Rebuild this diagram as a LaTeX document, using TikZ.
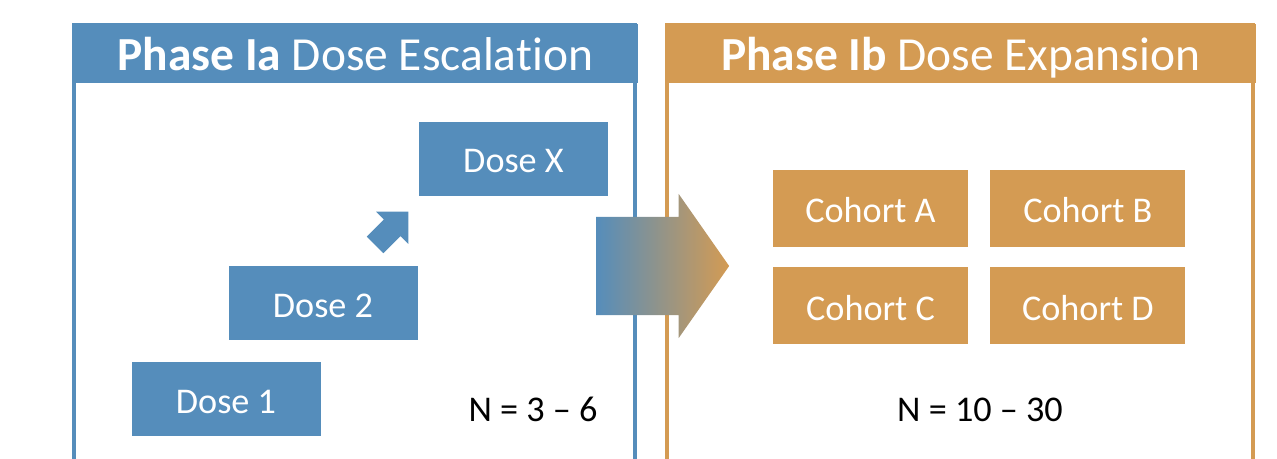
\documentclass[tikz,border=0pt]{standalone}
\usepackage{fontspec}
\setmainfont{Carlito}[Ligatures=NoCommon]
\usetikzlibrary{positioning, shapes.arrows}
\definecolor{phblue}{HTML}{558DBB}
\definecolor{phorange}{HTML}{D49B53}

\begin{document}
\begin{tikzpicture}[
    x=0.1mm, y=-0.1mm,
    hdr/.style={anchor=north west, text=white, inner sep=0pt,
                text height=3.55mm, text depth=0pt,
                minimum height=5.9mm, font=\fontsize{13.5}{16}\selectfont},
    panelframe/.style={line width=0.4mm},
    dosebox/.style={fill=phblue, text=white, inner sep=0pt,
                text height=2.85mm, text depth=0pt,
                minimum width=18.9mm, minimum height=7.4mm,
                font=\fontsize{10.3}{12}\selectfont},
    cohortbox/.style={fill=phorange, text=white, inner sep=0pt,
                text height=2.85mm, text depth=0pt,
                minimum width=19.5mm, minimum height=7.7mm,
                font=\fontsize{10.3}{12}\selectfont},
    countlbl/.style={text=black, font=\fontsize{10.3}{12}\selectfont},
  ]
  \clip (0,0) rectangle (1277,458);

  % ===== phase Ia: dose escalation =====
  \draw[panelframe, phblue] (74,25) rectangle (635,480);
  \node[hdr, fill=phblue, minimum width=56.5mm] (hdrA) at (72,23)
    {\textbf{Phase Ia} Dose Escalation};
  \node[dosebox] (dose1) at (226,399) {Dose 1};
  \node[dosebox] (dose2) at (323,303) {Dose 2};
  \node[dosebox] (doseX) at (513.5,158.5) {Dose X};
  \node[single arrow, fill=phblue, rotate=45, inner xsep=0pt, inner ysep=1.1mm,
        minimum height=4.7mm, single arrow head extend=1.1mm, anchor=tip]
    (climb) at (409,211) {};
  \node[countlbl] (nA) at (533,409) {N = 3 – 6};

  % ===== phase Ib: dose expansion =====
  \draw[panelframe, phorange] (667,25) rectangle (1253,480);
  \node[hdr, fill=phorange, minimum width=59mm] (hdrB) at (665,23)
    {\textbf{Phase Ib} Dose Expansion};
  \begin{scope}[node distance=1.9mm and 2.1mm]
    \node[cohortbox] (cohA) at (870.5,208.5) {Cohort A};
    \node[cohortbox, right=of cohA] (cohB) {Cohort B};
    \node[cohortbox, below=of cohA] (cohC) {Cohort C};
    \node[cohortbox, below=of cohB] (cohD) {Cohort D};
  \end{scope}
  \node[countlbl] (nB) at (980,410) {N = 10 – 30};

  % ===== hand-over arrow =====
  \node[single arrow, left color=phblue, right color=phorange,
        inner xsep=0pt, inner ysep=4.85mm, minimum height=13.3mm,
        single arrow head extend=2.3mm, single arrow tip angle=110, anchor=tip]
    (handoff) at (730,266) {};
\end{tikzpicture}
\end{document}
